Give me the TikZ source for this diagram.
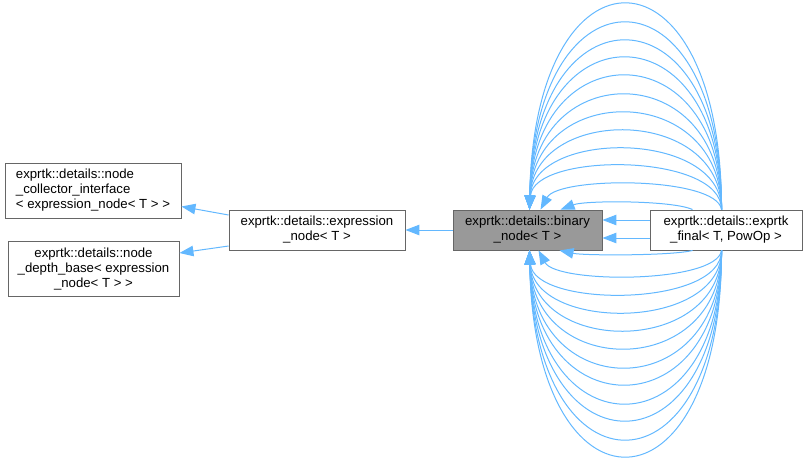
\documentclass[tikz,border=0pt]{standalone}
\usepackage{fontspec}
\setmainfont{Liberation Sans}
\usetikzlibrary{arrows.meta,calc}
\definecolor{edgeblue}{HTML}{63B8FF}
\definecolor{boxborder}{HTML}{666666}
\definecolor{boxfill}{HTML}{999999}
\begin{document}
\begin{tikzpicture}[x=1pt,y=-1pt,
  box/.style={draw=boxborder, line width=0.9pt, fill=white, inner sep=0pt,
    font=\fontsize{13.2}{15}\selectfont, align=center},
  edge/.style={draw=edgeblue, line width=1pt, -{Triangle[length=14pt,width=10.5pt]}}]
\useasboundingbox (0,0) rectangle (807,461);
\node[box, minimum width=176pt, minimum height=55pt, align=left] (A) at (93,190.5)
  {exprtk::details::node\\\_collector\_interface\\< expression\_node< T > >};
\node[box, minimum width=171pt, minimum height=55pt] (B) at (93.5,269)
  {exprtk::details::node\\\_depth\_base< expression\\\_node< T > >};
\node[box, minimum width=176pt, minimum height=40pt] (C) at (317,230)
  {exprtk::details::expression\\\_node< T >};
\node[box, fill=boxfill, minimum width=149pt, minimum height=40pt] (D) at (527.5,230)
  {exprtk::details::binary\\\_node< T >};
\node[box, minimum width=152pt, minimum height=40pt] (E) at (726,230)
  {exprtk::details::exprtk\\\_final< T, PowOp >};
% inheritance edges
\draw[edge] ($(C.west)+(0,-15)$) -- ($(A.east)+(0,16)$);
\draw[edge] ($(C.west)+(0,16)$) -- ($(B.east)+(0,-16)$);
\draw[edge] (D.west) -- (C.east);
\draw[edge] ($(E.west)+(0,-10)$) -- ($(D.east)+(0,-10)$);
\draw[edge] ($(E.west)+(0,8)$) -- ($(D.east)+(0,8)$);
% upper arcs
\foreach \p in {5,24,42,59,77,96,114,132,150,167} {
  \pgfmathsetmacro\h{(210-\p)/0.75}
  \draw[edge] ($(E.north west)+(72,0)$) .. controls +(0,-\h) and +(4,-\h) .. ($(D.north west)+(77,0)$);
}
\draw[edge] ($(E.north west)+(72,0)$) .. controls +(-5,-33.3) and +(18,-33.3) .. ($(D.north west)+(88,0)$);
\draw[edge] ($(E.north west)+(43,0)$) .. controls +(-20,-9.3) and +(25,-9.3) .. ($(D.north west)+(108,0)$);
% lower arcs
\foreach \p in {455,438,419,402,383,366,347,329,311,293} {
  \pgfmathsetmacro\h{(\p-250)/0.75}
  \draw[edge] ($(E.south west)+(72,0)$) .. controls +(0,\h) and +(4,\h) .. ($(D.south west)+(77,0)$);
}
\draw[edge] ($(E.south west)+(72,0)$) .. controls +(-5,33.3) and +(18,33.3) .. ($(D.south west)+(86,0)$);
\draw[edge] ($(E.south west)+(43,0)$) .. controls +(-20,5.3) and +(25,5.3) .. ($(D.south west)+(107,0)$);
\end{tikzpicture}
\end{document}
